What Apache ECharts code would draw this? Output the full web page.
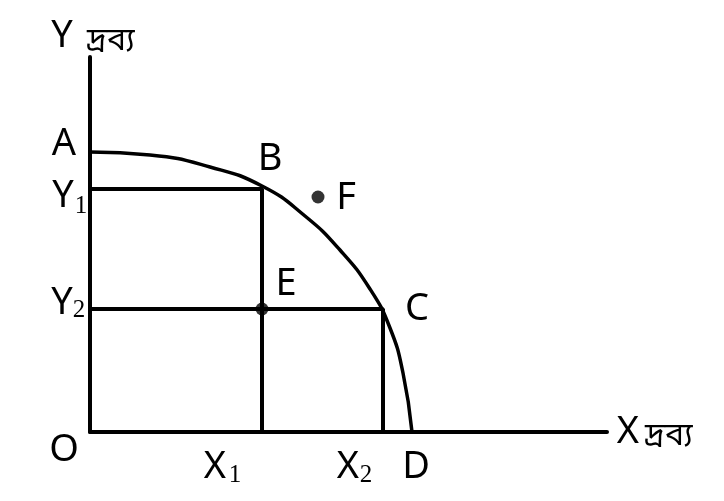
<!DOCTYPE html>
<html>
<head>
<meta charset="utf-8">
<script src="https://cdn.jsdelivr.net/npm/echarts@6/dist/echarts.min.js"></script>
<style>html,body{margin:0;padding:0;background:#fff;}#c{width:724px;height:501px;}</style>
</head>
<body>
<div id="c"></div>
<script>
// Production possibility frontier (A → D)
const frontierX = [0, 60, 120, 172, 215, 250, 280, 300, 313, 322];
const frontierY = [280, 277, 265, 246, 216, 182, 143, 104, 59, 0];
// guide levels
const levelX1 = 172, levelX2 = 293;
const levelY1 = 243, levelY2 = 123;
// points inside / outside frontier
const pointE = [172, 123];
const pointF = [228, 235];
const axisMaxX = 517, axisMaxY = 375;
const goodWord = 'দ্রব্য';

const chart = echarts.init(document.getElementById('c'), null, {renderer: 'canvas'});
const lineStyle = {color: '#000', width: 4};
const latin = '"Noto Sans", "Open Sans", sans-serif';
const beng = '"Noto Sans Bengali", "Lohit Bengali", "Noto Sans", sans-serif';
function txt(t, x, y, size, font, align) {
  return {type: 'text', x: x, y: y,
    style: {text: t, fill: '#000', font: size + 'px ' + font, textAlign: align || 'center', textVerticalAlign: 'middle'}};
}
const option = {
  backgroundColor: '#fff',
  animation: false,
  grid: {left: 90, right: 117, top: 57, bottom: 69},
  xAxis: {type: 'value', min: 0, max: axisMaxX, axisLine: {show: true, onZero: false, lineStyle: lineStyle},
    axisTick: {show: false}, axisLabel: {show: false}, splitLine: {show: false}},
  yAxis: {type: 'value', min: 0, max: axisMaxY, axisLine: {show: true, onZero: false, lineStyle: lineStyle},
    axisTick: {show: false}, axisLabel: {show: false}, splitLine: {show: false}},
  series: [
    {type: 'line', data: frontierX.map((x, i) => [x, frontierY[i]]), smooth: 0.5, showSymbol: false,
      lineStyle: {color: '#000', width: 3.5}},
    {type: 'line', data: [[0, levelY1], [levelX1, levelY1], [levelX1, 0]], showSymbol: false,
      lineStyle: {color: '#000', width: 4}},
    {type: 'line', data: [[0, levelY2], [levelX2, levelY2], [levelX2, 0]], showSymbol: false,
      lineStyle: {color: '#000', width: 4}},
    {type: 'scatter', data: [pointE, pointF], symbolSize: 13, itemStyle: {color: '#000'}}
  ],
  graphic: [
    txt('Y', 62, 36, 38, latin),
    txt(goodWord, 87, 44, 32, beng, 'left'),
    txt('A', 64, 144, 38, latin),
    txt('Y', 63, 196, 38, latin),
    txt('1', 81, 206, 25, '"Liberation Serif", serif'),
    txt('Y', 62, 303, 38, latin),
    txt('2', 79, 310, 25, '"Liberation Serif", serif'),
    txt('O', 64, 450, 38, latin),
    txt('X', 215, 467, 38, latin),
    txt('1', 235, 475, 25, '"Liberation Serif", serif'),
    txt('X', 348, 467, 38, latin),
    txt('2', 366, 475, 25, '"Liberation Serif", serif'),
    txt('D', 416, 467, 38, latin),
    txt('X', 628, 432, 38, latin),
    txt(goodWord, 645, 439, 32, beng, 'left'),
    txt('B', 270, 159, 38, latin),
    txt('F', 346, 198, 38, latin),
    txt('E', 286, 284, 38, latin),
    txt('C', 417, 309, 38, latin)
  ]
};
chart.setOption(option);
</script>
</body>
</html>
